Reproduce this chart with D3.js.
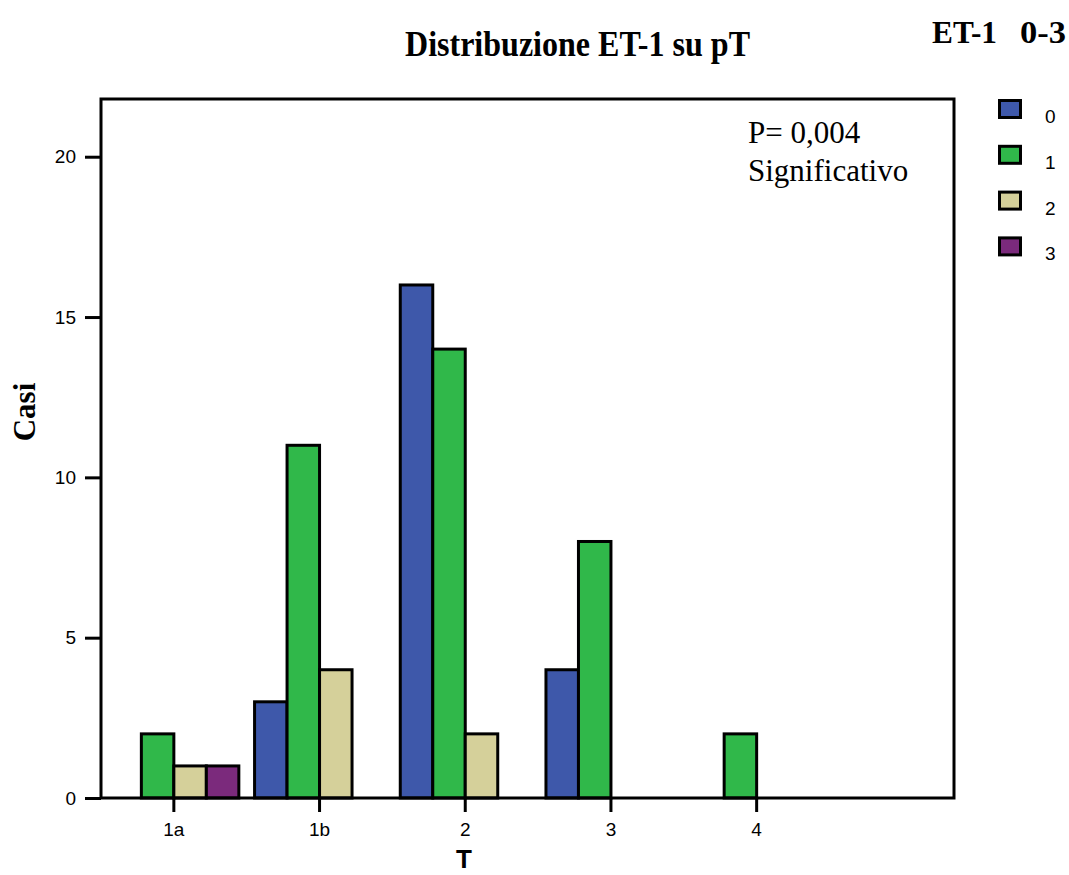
<!DOCTYPE html>
<html>
<head>
<meta charset="utf-8">
<script src="https://cdn.jsdelivr.net/npm/d3@7"></script>
<style>
  html, body { margin: 0; padding: 0; background: #fff; }
  svg { display: block; }
</style>
</head>
<body>
<svg id="chart" width="1069" height="875"></svg>
<script>
// Stage T categories and ET-1 score levels
const categories = ["1a", "1b", "2", "3", "4"];
const levels = ["0", "1", "2", "3"];
// Number of cases for each ET-1 level, by T category
const level0 = [0, 3, 16, 4, 0];
const level1 = [2, 11, 14, 8, 2];
const level2 = [1, 4, 2, 0, 0];
const level3 = [1, 0, 0, 0, 0];
const yTicks = [0, 5, 10, 15, 20];
const levelColors = ["#3e58aa", "#30b84a", "#d5d09a", "#7b2a7c"];

const seriesValues = [level0, level1, level2, level3];

const serif = "'Liberation Serif', 'Times New Roman', serif";
const sans = "'Liberation Sans', Arial, sans-serif";

const svg = d3.select("#chart");
const plot = { left: 101, top: 99, right: 954, bottom: 798 };

const y = d3.scaleLinear().domain([0, 21.8]).range([plot.bottom, plot.top]);
const step = 145.7;
const x0 = d3.scaleBand()
  .domain(categories)
  .range([plot.left, plot.left + categories.length * step])
  .paddingInner(0.108)
  .paddingOuter(0.054);
const x1 = d3.scaleBand().domain(levels).range([0, x0.bandwidth()]);
const color = d3.scaleOrdinal().domain(levels).range(levelColors);

// Titles (narrow bold serif)
svg.append("text")
  .attr("x", 405).attr("y", 56)
  .attr("textLength", 345)
  .attr("lengthAdjust", "spacingAndGlyphs")
  .style("font-family", serif)
  .style("font-weight", "bold").style("font-size", "35px")
  .text("Distribuzione ET-1 su pT");

svg.append("text")
  .attr("x", 932).attr("y", 43)
  .attr("textLength", 65)
  .attr("lengthAdjust", "spacingAndGlyphs")
  .style("font-family", serif)
  .style("font-weight", "bold").style("font-size", "32px")
  .text("ET-1");
svg.append("text")
  .attr("x", 1020).attr("y", 43)
  .attr("textLength", 46)
  .attr("lengthAdjust", "spacingAndGlyphs")
  .style("font-family", serif)
  .style("font-weight", "bold").style("font-size", "32px")
  .text("0-3");

// Bars
const rows = [];
categories.forEach((c, ci) => {
  levels.forEach((l, li) => {
    const v = seriesValues[li][ci];
    if (v > 0) rows.push({ cat: c, level: l, value: v });
  });
});

svg.append("g").selectAll("rect")
  .data(rows)
  .join("rect")
  .attr("x", d => x0(d.cat) + x1(d.level))
  .attr("y", d => y(d.value))
  .attr("width", x1.bandwidth())
  .attr("height", d => y(0) - y(d.value))
  .attr("fill", d => color(d.level))
  .attr("stroke", "#000")
  .attr("stroke-width", 3);

// Plot frame
svg.append("rect")
  .attr("x", plot.left).attr("y", plot.top)
  .attr("width", plot.right - plot.left)
  .attr("height", plot.bottom - plot.top)
  .attr("fill", "none")
  .attr("stroke", "#000")
  .attr("stroke-width", 3);

// Axes
const yAxis = svg.append("g")
  .attr("transform", `translate(${plot.left},0)`)
  .call(d3.axisLeft(y).tickValues(yTicks).tickSize(16).tickPadding(9));
yAxis.select(".domain").remove();
yAxis.selectAll(".tick line").attr("stroke-width", 3);
yAxis.selectAll(".tick text")
  .attr("font-family", sans).attr("font-size", 19).attr("fill", "#000");

const xAxis = svg.append("g")
  .attr("transform", `translate(0,${plot.bottom})`)
  .call(d3.axisBottom(x0).tickSize(14).tickPadding(11));
xAxis.select(".domain").remove();
xAxis.selectAll(".tick line").attr("stroke-width", 3);
xAxis.selectAll(".tick text")
  .attr("font-family", sans).attr("font-size", 19).attr("fill", "#000");

// Axis titles
svg.append("text")
  .attr("transform", "translate(35,412) rotate(-90)")
  .attr("text-anchor", "middle")
  .style("font-family", serif)
  .style("font-weight", "bold").style("font-size", "31px")
  .text("Casi");

svg.append("text")
  .attr("x", 464).attr("y", 868)
  .attr("text-anchor", "middle")
  .style("font-family", sans)
  .style("font-weight", "bold").style("font-size", "26px")
  .text("T");

// Significance note
const note = svg.append("g")
  .style("font-family", serif)
  .style("font-size", "31px");
note.append("text").attr("x", 748).attr("y", 143).text("P= 0,004");
note.append("text").attr("x", 748).attr("y", 181).text("Significativo");

// Legend
const legend = svg.append("g").selectAll("g")
  .data(levels)
  .join("g")
  .attr("transform", (d, i) => `translate(0,${i * 45.8})`);
legend.append("rect")
  .attr("x", 999.5).attr("y", 100.5)
  .attr("width", 21).attr("height", 17)
  .attr("fill", d => color(d))
  .attr("stroke", "#000")
  .attr("stroke-width", 3);
legend.append("text")
  .attr("x", 1045).attr("y", 123)
  .style("font-family", sans)
  .style("font-size", "19px")
  .text(d => d);
</script>
</body>
</html>
